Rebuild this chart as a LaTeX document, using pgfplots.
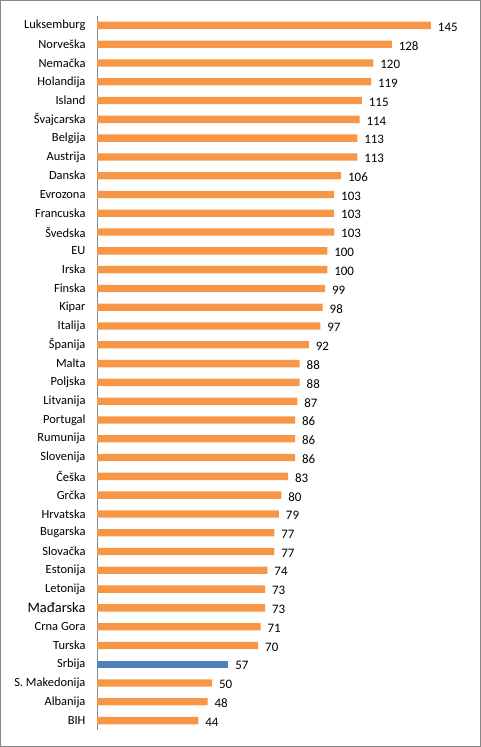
\documentclass[border=0pt]{standalone}
\usepackage{pgfplots}
\pgfplotsset{compat=1.18}
\usepackage{fontspec}
\setmainfont{Carlito}
\definecolor{barorange}{HTML}{F79646}
\definecolor{barblue}{HTML}{4F81BD}
\definecolor{framegray}{HTML}{878787}

% BDP po stanovniku (PPS), EU = 100
\pgfplotstableread{
idx val
0 145
1 128
2 120
3 119
4 115
5 114
6 113
7 113
8 106
9 103
10 103
11 103
12 100
13 100
14 99
15 98
16 97
17 92
18 88
19 88
20 87
21 86
22 86
23 86
24 83
25 80
26 79
27 77
28 77
29 74
30 73
31 73
32 71
33 70
35 50
36 48
37 44
}\others
\pgfplotstableread{
idx val
34 57
}\srbija

\begin{document}
\begin{tikzpicture}
\draw[framegray, line width=1bp] (0.5bp,0.5bp) rectangle (480.5bp,746.5bp);
\begin{axis}[
  at={(97bp,17bp)}, anchor=south west,
  scale only axis,
  width=368.5bp, height=714bp,
  xmin=0, xmax=160,
  ymin=-0.5, ymax=37.5,
  y dir=reverse,
  axis x line=none,
  axis y line*=left,
  y axis line style={framegray, line width=0.8bp},
  major tick length=0pt,
  ytick={0,...,37},
  yticklabels={Luksemburg,Norveška,Nemačka,Holandija,Island,Švajcarska,Belgija,Austrija,Danska,Evrozona,Francuska,Švedska,EU,Irska,Finska,Kipar,Italija,Španija,Malta,Poljska,Litvanija,Portugal,Rumunija,Slovenija,Češka,Grčka,Hrvatska,Bugarska,Slovačka,Estonija,Letonija,{\fontsize{14.5}{16}\selectfont Mađarska},Crna Gora,Turska,Srbija,S. Makedonija,Albanija,BIH},
  yticklabel style={font=\fontsize{12.5}{14}\selectfont, anchor=east, xshift=-8bp},
  xbar, bar width=0.39, bar shift=0pt,
  nodes near coords,
  /pgf/number format/assume math mode=true,
  nodes near coords style={font=\fontsize{13}{15}\selectfont, anchor=west, xshift=3.5bp, yshift=-1.5bp, black},
  clip=false,
]
\addplot[draw=none, fill=barorange] table[x=val, y=idx] {\others};
\addplot[draw=none, fill=barblue] table[x=val, y=idx] {\srbija};
\end{axis}
\end{tikzpicture}
\end{document}
